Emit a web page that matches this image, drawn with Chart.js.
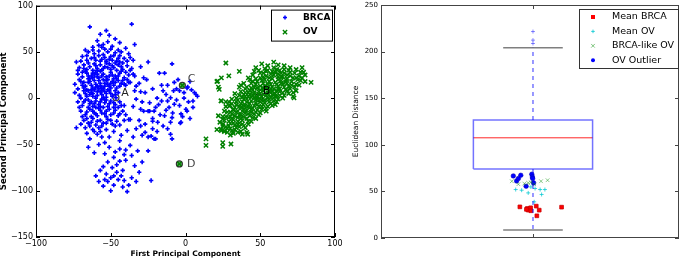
<!DOCTYPE html>
<html><head><meta charset="utf-8">
<script src="https://cdn.jsdelivr.net/npm/chart.js@4.4.1/dist/chart.umd.min.js"></script>
<style>
html,body{margin:0;padding:0;background:#fff;width:685px;height:259px;overflow:hidden}
#wrap{position:relative;width:685px;height:259px}
canvas{position:absolute;top:0}
#c1{left:0}#c2{left:345px}
</style></head><body>
<div id="wrap"><canvas id="c1" width="345" height="259"></canvas><canvas id="c2" width="340" height="259"></canvas></div>
<script>
// ---------- Left panel data (PCA) ----------
const brcaPoints = [
[-64,77],[-36,80],[-53,73],[-57,69],[-51,68],[-47,64],[-59,62],[-34,58],[-44,60],[-55,58],[-62,55],[-49,56],[-67,52],[-40,54],[-52,61],[-58,57],
[-73,39],[-69,45],[-65,50],[-61,48],[-58,51],[-55,47],[-52,50],[-50,45],[-47,49],[-44,46],[-41,43],[-38,48],[-63,43],[-60,41],[-56,42],[-53,40],[-49,41],[-46,40],[-58,46],[-66,41],[-25,39],[-35,41],[-54,53],[-45,52],
[-71,33],[-68,36],[-64,34],[-61,37],[-59,32],[-57,36],[-54,34],[-51,37],[-48,33],[-45,36],[-42,31],[-39,35],[-62,30],[-56,30],[-50,31],[-66,31],[-44,39],[-36,32],[-30,34],[-53,38],[-60,35],[-47,38],
[-72,26],[-69,23],[-66,27],[-63,24],[-60,28],[-58,22],[-55,26],[-53,23],[-50,28],[-47,24],[-44,27],[-41,22],[-38,25],[-64,21],[-57,29],[-52,20],[-46,21],[-61,25],[-49,25],[-34,24],[-28,22],[-56,24],[-59,26],[-67,29],[-43,29],
[-74,15],[-70,18],[-67,13],[-65,17],[-62,11],[-60,15],[-58,19],[-56,12],[-54,16],[-51,13],[-49,18],[-46,11],[-43,16],[-40,14],[-37,17],[-63,14],[-57,16],[-53,19],[-48,14],[-61,19],[-55,10],[-33,13],[-68,11],[-45,19],[-59,13],[-52,15],[-50,11],[-64,18],
[-74,6],[-71,3],[-68,8],[-66,2],[-63,6],[-61,9],[-59,3],[-57,7],[-55,1],[-53,5],[-51,8],[-49,2],[-45,6],[-34,8],[-60,0],[-56,4],[-52,9],[-64,4],[-58,10],[-30,7],[-47,8],[-62,2],[-54,7],[-46.5,0.5],
[-72,-4],[-69,-8],[-67,-2],[-64,-6],[-62,-9],[-60,-3],[-58,-7],[-56,-1],[-54,-5],[-52,-9],[-50,-3],[-47,-7],[-44,-4],[-41,-8],[-55,-10],[-61,-6],[-65,-10],[-48,-10],[-35,-9],[-57,-4],[-53,-2],
[-70,-14],[-67,-18],[-64,-12],[-61,-16],[-59,-19],[-57,-13],[-54,-17],[-51,-12],[-48,-16],[-45,-19],[-42,-14],[-58,-11],[-63,-20],[-53,-20],[-40,-18],[-66,-15],
[-73,-32],[-68,-24],[-65,-27],[-62,-22],[-60,-29],[-57,-24],[-55,-27],[-52,-23],[-49,-28],[-46,-25],[-64,-30],[-58,-32],[-37,-23],[-31,-24],
[-70,40],[-66,46],[-62,52],[-56,55],[-50,53],[-43,50],[-37,44],[-72,30],[-68,32],[-65,38],[-61,44],[-57,40],[-54,44],[-51,42],[-48,46],[-45,43],[-42,38],[-39,40],
[-69,28],[-65,24],[-62,27],[-59,30],[-55,32],[-52,33],[-49,35],[-46,30],[-43,34],[-40,28],[-37,30],[-71,20],[-68,17],[-65,21],[-62,22],[-59,23],[-55,20],[-51,24],[-48,21],[-45,24],[-42,19],[-39,20],
[-72,10],[-69,14],[-66,9],[-63,9],[-60,12],[-57,13],[-54,13],[-50,16],[-47,17],[-44,13],[-41,15],[-38,17],[-70,0],[-67,5],[-65,8],[-62,5],[-59,7],[-56,8],[-53,1],[-50,5],[-47,4],
[-71,-10],[-68,-4],[-65,-2],[-63,-4],[-60,-10],[-57,-9],[-54,-2],[-51,-6],[-48,-5],[-45,-10],[-43,-8],[-69,-20],[-66,-22],[-62,-14],[-60,-17],[-56,-16],[-53,-14],[-50,-18],[-47,-13],[-44,-17],[-41,-24],
[-70,-28],[-67,-32],[-63,-26],[-59,-25],[-56,-30],[-53,-27],[-50,-24],[-47,-30],[-44,-29],[-61,-36],[-57,-36],[-53,-34],[-48,-36],[-43,-40],[-39,-35],[-33,-33],[-29,-40],[-27,-28],
[-66,-38],[-62,-34],[-59,-39],[-56,-42],[-65,-53],[-61,-59],[-51,-53],[-51,-42],[-44,-46],[-48,-64],[-52,-69],[-53,-82],[-58,-90],[-48,-94],[-42,-96],[-38,-94],[-23,-89],[-43,-84],[-40,-67],[-37,-51],[-35,-42],[-32,-57],[-29,-69],[-25,-57],[-38,-23],[-22,-25],[-30,-12],[-25,-14],
[-55,-74],[-46,-72],[-42,-78],[-50,-86],[-45,-88],[-55,-95],[-50,-100],[-39,-101],[-36,-86],[-47,-58],[-41,-61],[-44,-55],[-54,-48],[-49,-75],[-57,-78],[-34,-73],[-31,-80],[-40,-56],[-46,-80],[-52,-90],
[-64,-44],[-58,-50],[-54,-60],[-36,-62],[-44,-68],[-48,-84],[-41,-89],[-54,-88],[-60,-84],[-33,-90],
[-9,37],[-17.5,27],[-14,27],[-12,14],[-7.5,17],[1.5,12],[6,6],[7,4],[-1,6],[-4,8],[-10,0.5],[-13,4],[-16,-3],[-20,-10],[-21,-14],[-7.5,-6.5],[0.3,-12],[5,-10],[-3,-17],[-8.6,-16],[-14,-19],[-18.6,-26],[-22,-33],[-23,-41],[-20,-44],[-25,-42],[-10,-26],[-3.5,-27],[-28,-14],[-29,-4],[-26,20],[8,2],[-3,-26],[-10,-39],[-21,-44],[-24,-14],[-19,0],[-12,-3],[-8,8],[1,11],[5,-3],[1,-14],[-5,20],[3,18],[-1,0],[-6,-2],[-15,8],[-18,-7],[-11,-10],[-4,-8],[2,-4],[-13,-13],[-17,-18],[-9,-21],[-22,-22],[-15,-30],[-19,-36],[-12,-33],[-27,-37],[-6,10],[4,9],[-2,-20],[-24,-5],[-16,14],[-30,-30],[-33,-1],[-27,6],[-31,16],[-22,10],[-35,26],[3,-22],[-9,-44]
];
const ovPoints = [
[47,33],[59,39],[66,31],[78,33],[84,17],[74,8],[72,2],[55,30],[60,28],[64,27],[68,25],[72,22],[75,20],[62,23],[58,21],[54,24],[50,22],[48,18],[52,16],[56,18],[60,17],[64,19],[68,16],[71,14],[66,12],[62,13],[58,12],[54,11],[50,13],[46,12],[44,16],[70,28],[73,27],[76,24],[67,20],[61,31],[57,26],[52,27],[45,25],[79,28],[74,15],[70,10],[65,6],[69,5],
[40,10],[43,8],[46,6],[49,7],[52,8],[55,6],[58,7],[61,8],[63,3],[60,2],[57,1],[54,3],[51,2],[48,1],[45,3],[42,2],[39,4],[37,7],[41,-1],[44,-3],[47,-2],[50,-4],[53,-2],[56,-4],[59,-3],[62,-1],[38,-4],[35,-2],[36,3],[43,-6],[46,-8],[49,-9],[52,-7],[55,-9],[58,-8],[40,-8],[37,-10],[48,-13],[51,-12],[44,-12],[54,-14],[34,-7],[32,-12],[41,12],[65,0],[60,-7],[33,5],[36,12],
[28,-15],[31,-17],[34,-15],[37,-18],[40,-16],[43,-19],[46,-17],[29,-21],[32,-23],[35,-21],[38,-24],[41,-22],[44,-25],[26,-24],[30,-27],[33,-29],[36,-27],[39,-30],[42,-28],[25,-30],[28,-33],[31,-35],[34,-32],[37,-36],[41,-37],[24,-35],[26,-36],[32,-38],[30,-40],[23,-26],[22,-19],[27,-9],[24,-3],[25,-20],[47,-22],[49,-18],[30,-8],[29,-4],
[50,27],[53,20],[56,22],[59,25],[62,20],[65,23],[68,21],[71,18],[74,22],[77,19],[63,30],[66,27],[69,30],[59,33],[54,29],[49,30],[57,15],[61,15],[65,15],[69,13],[73,12],[76,14],[72,6],[67,9],[63,10],[59,10],[55,15],[51,19],[47,21],[43,20],[47,15],[44,11],[50,9],[53,13],[56,9],[60,5],[63,7],[66,3],[68,8],[58,4],[55,0],[52,4],[49,4],[46,0],[43,4],[40,6],[38,1],[41,-4],[44,1],[47,-5],[50,-1],[53,-5],[56,-1],[59,0],[61,-4],[57,-6],[54,-11],[51,-9],[48,-7],[45,-11],[42,-9],[39,-12],[36,-9],[33,-10],[35,-14],[38,-14],[41,-13],[44,-15],[47,-15],[50,-16],[45,-21],[42,-25],[39,-20],[36,-18],[33,-19],[30,-20],[27,-20],[29,-25],[32,-27],[35,-25],[38,-28],[40,-32],[36,-31],[33,-34],[29,-30],[27,-31],[25,-28],[30,-33],[35,-37],[38,-39],[28,-37],[32,-13],[30,-15],[26,-14],[27,-4],[31,-1],[34,0],[37,-6],[39,-1],[34,-4],[31,-6],[40,2],[42,6],[45,9],[48,11],[52,11],[64,16],[62,26],[58,29],[53,32],[46,29],[42,22],[39,16],[37,14],[80,18],[78,22],[77,28],[74,31],[70,33],[66,35],[62,36],[55,35],[51,37],
[45,18],[52,23],[57,10],[62,10],[67,17],[70,24],[64,23],[48,-1],[43,-10],[52,-3],[39,-8],[35,-28],[31,-22],[37,-22],[42,-17],[55,4],[46,4],[61,2],
[27,38],[36,29],[21.5,18.5],[22.6,9.5],[23.7,-3],[29.3,-8.4],[24.9,-22.6],[23.7,-33.4],[26,-35],[31.6,-37],[41.6,-39],[13.7,-44],[13.7,-51],[24.9,-48],[24.9,-52],[30.4,-49.5],[21,18],[22,12],[21,-34],[72.6,0.4],[29,24],[24,22],[80,25],
[-2.1,13.8],[-4.1,-71]
];
const markerNames = ['A','B','C','D'];
const markerX = [-46.5, 49, -2.1, -4.1];
const markerY = [0.5, 0.5, 13.8, -71];
const markerLabelX = [-43, 51.6, 1.5, 1];
const markerLabelY = [5, 8, 21, -71];
const pcaTicksX = [-100,-50,0,50,100];
const pcaTicksY = [-150,-100,-50,0,50,100];

// ---------- Right panel data (distances) ----------
const boxStats = [8.5, 74, 107.5, 126.7, 204]; // lower whisker, Q1, median, Q3, upper whisker
const boxFliers = [208.7, 212.3, 221.5];
const meanBrcaX = [0.956,0.981,0.984,0.992,0.993,1.011,1.021,1.013,1.096,0.978];
const meanBrcaY = [33.4,31.7,29.9,32.4,29.2,34.2,29.9,23.8,33.1,30.7];
const meanOvX = [0.942,0.962,0.984,1.007,1.024,1.040,1.029,1.004,0.993];
const meanOvY = [52,51.3,48.4,53.1,52,52,46.7,38.8,54.8];
const brcaLikeOvX = [0.929,0.951,0.971,0.984,0.993,1.027,1.049,1.004];
const brcaLikeOvY = [60.9,57.7,58.4,59.1,59.8,60.9,62,57.7];
const ovOutlierX = [0.934,0.945,0.951,0.959,0.977,0.996,0.998,1.002,0.999];
const ovOutlierY = [66.6,61.2,63.8,67.3,55.6,68.4,65.5,59.1,63.8];
const distTicks = [0,50,100,150,200,250];

const FONT = '"DejaVu Sans", "Liberation Sans", sans-serif';
const fmt = v => v < 0 ? '\u2212' + Math.abs(v) : String(v);
const pts = arr => arr.map(([x,y]) => ({x,y}));
const zip = (xs, ys) => xs.map((x,i) => ({x, y: ys[i]}));

function drawMarker(ctx, m, x, y) {
  ctx.save();
  ctx.strokeStyle = m.color; ctx.fillStyle = m.fill || m.color; ctx.lineWidth = m.lw || 1;
  ctx.beginPath();
  const r = m.r;
  if (m.style === 'cross') { ctx.moveTo(x-r,y); ctx.lineTo(x+r,y); ctx.moveTo(x,y-r); ctx.lineTo(x,y+r); ctx.stroke(); }
  else if (m.style === 'crossRot') { const d = r*0.707; ctx.moveTo(x-d,y-d); ctx.lineTo(x+d,y+d); ctx.moveTo(x-d,y+d); ctx.lineTo(x+d,y-d); ctx.stroke(); }
  else if (m.style === 'rect') { ctx.fillRect(x-r,y-r,2*r,2*r); }
  else if (m.style === 'circle') { ctx.arc(x,y,r,0,Math.PI*2); ctx.fill(); }
  ctx.restore();
}

const framePlugin = {
  id: 'frame',
  afterDatasetsDraw(chart, args, o) {
    const {ctx, chartArea: a, scales} = chart;
    ctx.save();
    ctx.strokeStyle = o.color; ctx.lineWidth = 1;
    ctx.strokeRect(a.left + 0.5, a.top + 0.5, a.right - a.left - 1, a.bottom - a.top - 1);
    ctx.beginPath();
    (o.yTicks || []).forEach(v => {
      const p = Math.round(scales.y.getPixelForValue(v)) + 0.5;
      ctx.moveTo(a.left, p); ctx.lineTo(a.left + 4, p);
      ctx.moveTo(a.right, p); ctx.lineTo(a.right - 4, p);
    });
    (o.xTicks || []).forEach(v => {
      const p = Math.round(scales.x.getPixelForValue(v)) + 0.5;
      ctx.moveTo(p, a.top); ctx.lineTo(p, a.top + 4);
      ctx.moveTo(p, a.bottom); ctx.lineTo(p, a.bottom - 4);
    });
    ctx.stroke();
    const L = o.legend;
    if (L) {
      const bx = a.right - L.w - L.dr, by = a.top + L.dt;
      ctx.fillStyle = '#fff'; ctx.fillRect(bx, by, L.w, L.h);
      ctx.strokeStyle = L.border; ctx.lineWidth = 1;
      ctx.strokeRect(bx + 0.5, by + 0.5, L.w - 1, L.h - 1);
      ctx.font = L.font; ctx.textBaseline = 'middle'; ctx.textAlign = 'left';
      L.items.forEach((it, i) => {
        const y = by + L.first + i * L.step;
        drawMarker(ctx, it.marker, bx + L.mx, y);
        ctx.fillStyle = '#000';
        ctx.fillText(it.label, bx + L.tx, y);
      });
    }
    if (o.labels) {
      ctx.font = o.labels.font; ctx.textBaseline = 'middle'; ctx.textAlign = 'left';
      o.labels.names.forEach((n, i) => {
        ctx.fillStyle = o.labels.colors[i];
        ctx.fillText(n, scales.x.getPixelForValue(o.labels.xs[i]), scales.y.getPixelForValue(o.labels.ys[i]));
      });
    }
    ctx.restore();
  }
};

const noGrid = { display: false, drawTicks: false, tickLength: 0 };

// ---------- Left chart ----------
new Chart(document.getElementById('c1'), {
  type: 'scatter',
  data: { datasets: [
    { label: 'BRCA', data: pts(brcaPoints), pointStyle: 'cross', pointRadius: 2.2, pointBorderWidth: 1.6, borderColor: '#0000ff', pointBorderColor: '#0000ff', backgroundColor: '#0000ff' },
    { label: 'OV', data: pts(ovPoints), pointStyle: 'crossRot', pointRadius: 3, pointBorderWidth: 1.5, borderColor: '#008000', pointBorderColor: '#008000', backgroundColor: '#008000' },
    { label: 'markers', data: zip(markerX, markerY), pointStyle: 'circle', pointRadius: [3, 3.8, 3, 3], pointBorderWidth: 1.2,
      pointBorderColor: ['#444', '#000', '#333', '#333'], pointBackgroundColor: ['rgba(0,0,0,0)', 'rgba(0,0,0,0)', 'rgba(0,128,0,0.6)', 'rgba(0,128,0,0.6)'] }
  ]},
  options: {
    responsive: false, animation: false, events: [],
    layout: { padding: { left: 0, top: 4, right: 10, bottom: 0 } },
    plugins: {
      legend: { display: false }, tooltip: { enabled: false },
      frame: {
        color: '#000', xTicks: pcaTicksX, yTicks: pcaTicksY,
        legend: { w: 62, h: 32, dr: 2, dt: 4, mx: 14, tx: 32, first: 8, step: 14.5, border: '#000',
          font: 'bold 9px ' + FONT,
          items: [ { label: 'BRCA', marker: { style: 'cross', r: 2, color: '#0000ff', lw: 1.5 } },
                   { label: 'OV', marker: { style: 'crossRot', r: 3, color: '#008000', lw: 1.4 } } ] },
        labels: { names: markerNames, xs: markerLabelX, ys: markerLabelY, font: '11px ' + FONT, colors: ['#222', '#000', '#444', '#444'] }
      }
    },
    scales: {
      x: { type: 'linear', min: -100, max: 100,
        afterBuildTicks(s) { s.ticks = pcaTicksX.map(v => ({ value: v })); },
        ticks: { font: { family: FONT, size: 8 }, color: '#000', padding: 2, maxRotation: 0, autoSkip: false, callback: fmt },
        grid: noGrid, border: { display: false },
        title: { display: true, text: 'First Principal Component', font: { family: FONT, size: 7.5, weight: 'bold', lineHeight: 1.2 }, color: '#000', padding: 0 },
        afterFit(s) { s.height = 22; s.paddingLeft = 0; s.paddingRight = 0; } },
      y: { type: 'linear', min: -150, max: 100,
        afterBuildTicks(s) { s.ticks = pcaTicksY.map(v => ({ value: v })); },
        ticks: { font: { family: FONT, size: 8 }, color: '#000', padding: 3, autoSkip: false, callback: fmt },
        grid: noGrid, border: { display: false },
        title: { display: true, text: 'Second Principal Component', font: { family: FONT, size: 8.5, weight: 'bold', lineHeight: 1 }, color: '#000', padding: 0 },
        afterFit(s) { s.width = 36; s.paddingTop = 0; s.paddingBottom = 0; } }
    }
  },
  plugins: [framePlugin]
});

// ---------- Right chart ----------
const [lo, q1, med, q3, hi] = boxStats;
const line = (data, color, width, dash) => ({ data, showLine: true, pointRadius: 0, borderColor: color, borderWidth: width, borderDash: dash || [], fill: false, tension: 0 });
new Chart(document.getElementById('c2'), {
  type: 'scatter',
  data: { datasets: [
    line([{x:1,y:q1},{x:1,y:lo}], 'rgba(0,0,255,0.45)', 1.8, [4,4]),
    line([{x:1,y:q3},{x:1,y:hi}], 'rgba(0,0,255,0.45)', 1.8, [4,4]),
    line([{x:0.9,y:lo},{x:1.1,y:lo}], 'rgba(0,0,0,0.5)', 1.5),
    line([{x:0.9,y:hi},{x:1.1,y:hi}], 'rgba(0,0,0,0.5)', 1.5),
    line([{x:0.8,y:q1},{x:1.2,y:q1},{x:1.2,y:q3},{x:0.8,y:q3},{x:0.8,y:q1}], 'rgba(0,0,255,0.55)', 1.5),
    line([{x:0.8,y:med},{x:1.2,y:med}], 'rgba(255,0,0,0.85)', 1),
    { label: 'fliers', data: boxFliers.map(y => ({x:1, y})), pointStyle: 'cross', pointRadius: 2, pointBorderWidth: 1, pointBorderColor: 'rgba(0,0,255,0.45)' },
    { label: 'Mean BRCA', data: zip(meanBrcaX, meanBrcaY), pointStyle: 'rect', pointRadius: 2.6, pointBorderWidth: 0.8, pointBorderColor: '#cc0000', pointBackgroundColor: '#ff0000' },
    { label: 'Mean OV', data: zip(meanOvX, meanOvY), pointStyle: 'cross', pointRadius: 2, pointBorderWidth: 1, pointBorderColor: 'rgba(0,200,210,0.75)' },
    { label: 'BRCA-like OV', data: zip(brcaLikeOvX, brcaLikeOvY), pointStyle: 'crossRot', pointRadius: 2.6, pointBorderWidth: 1, pointBorderColor: 'rgba(0,140,0,0.45)' },
    { label: 'OV Outlier', data: zip(ovOutlierX, ovOutlierY), pointStyle: 'circle', pointRadius: 2.3, pointBorderWidth: 0.5, pointBorderColor: '#0000aa', pointBackgroundColor: '#0000ff' }
  ]},
  options: {
    responsive: false, animation: false, events: [],
    layout: { padding: { left: 0, top: 4, right: 6, bottom: 0 } },
    plugins: {
      legend: { display: false }, tooltip: { enabled: false },
      frame: {
        color: '#444', xTicks: [1], yTicks: distTicks,
        legend: { w: 100, h: 60, dr: 0, dt: 4, mx: 14, tx: 33, first: 8, step: 14.4, border: '#333',
          font: '9.5px ' + FONT,
          items: [ { label: 'Mean BRCA', marker: { style: 'rect', r: 2, color: '#ff0000' } },
                   { label: 'Mean OV', marker: { style: 'cross', r: 1.8, color: 'rgba(0,200,210,0.8)', lw: 1 } },
                   { label: 'BRCA-like OV', marker: { style: 'crossRot', r: 2.6, color: 'rgba(0,140,0,0.5)', lw: 1 } },
                   { label: 'OV Outlier', marker: { style: 'circle', r: 2, color: '#0000ff' } } ] }
      }
    },
    scales: {
      x: { type: 'linear', min: 0.49, max: 1.49,
        ticks: { display: false }, grid: noGrid, border: { display: false },
        afterFit(s) { s.height = 21; s.paddingLeft = 0; s.paddingRight = 0; } },
      y: { type: 'linear', min: 0, max: 250,
        afterBuildTicks(s) { s.ticks = distTicks.map(v => ({ value: v })); },
        ticks: { font: { family: FONT, size: 7 }, color: '#000', padding: 3, autoSkip: false, callback: fmt },
        grid: noGrid, border: { display: false },
        title: { display: true, text: 'Euclidean Distance', font: { family: FONT, size: 7.5, lineHeight: 1.2 }, color: '#000', padding: { top: 6.5, bottom: 0 } },
        afterFit(s) { s.width = 36; s.paddingTop = 0; s.paddingBottom = 0; } }
    }
  },
  plugins: [framePlugin]
});
</script></body></html>
